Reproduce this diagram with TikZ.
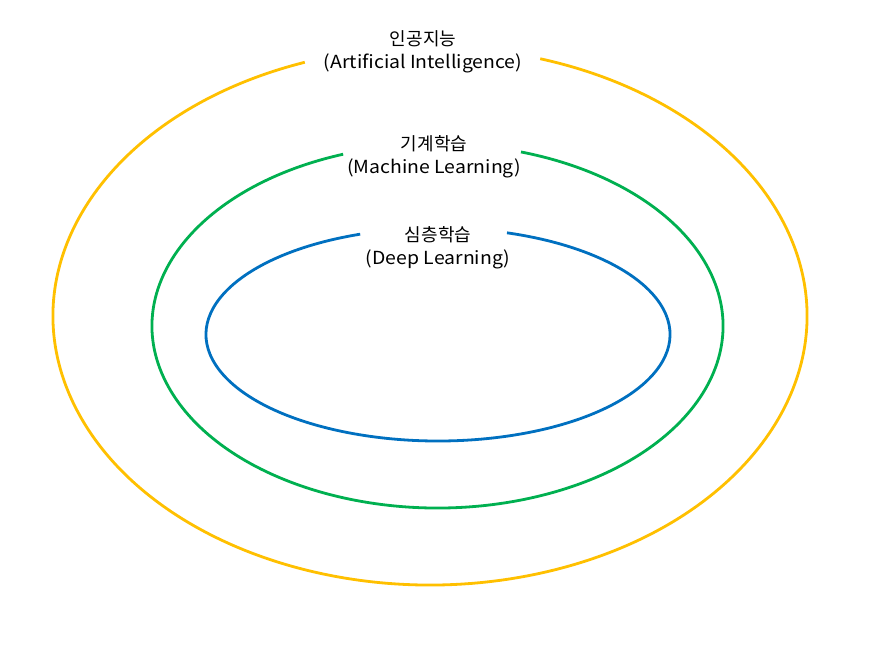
\documentclass[tikz,border=0pt]{standalone}
\usepackage{fontspec}
\setmainfont{Noto Sans CJK KR}
\newfontfamily\latinwide[FakeStretch=1.08]{Noto Sans CJK KR}
\usetikzlibrary{calc}
\definecolor{aiyellow}{HTML}{FFC000}
\definecolor{mlgreen}{HTML}{00B050}
\definecolor{dlblue}{HTML}{0070C0}
\begin{document}
\begin{tikzpicture}[x=1pt,y=1pt,
  ring/.style={line width=2.8pt},
  lbl/.style={align=center, font=\fontsize{18}{22.5}\selectfont, inner sep=0pt, text=black}]
\useasboundingbox[fill=white] (0,0) rectangle (879,653);
\coordinate (cAI) at (430,337);
\coordinate (cML) at (437.5,327);
\coordinate (cDL) at (438,318.5);
\draw[ring, aiyellow] ($(cAI)+(109.4:377pt and 269pt)$) arc[start angle=109.4, end angle=433, x radius=377pt, y radius=269pt];
\draw[ring, mlgreen] ($(cML)+(109.3:285.5pt and 182pt)$) arc[start angle=109.3, end angle=433, x radius=285.5pt, y radius=182pt];
\draw[ring, dlblue] ($(cDL)+(109.6:232pt and 106.5pt)$) arc[start angle=109.6, end angle=432.7, x radius=232pt, y radius=106.5pt];
\node[lbl] (tAI) at (423,601) {인공지능\\{\latinwide (Artificial Intelligence)}};
\node[lbl] (tML) at (434,496) {기계학습\\{\latinwide (Machine Learning)}};
\node[lbl] (tDL) at (438,405) {심층학습\\{\latinwide (Deep Learning)}};
\end{tikzpicture}
\end{document}
